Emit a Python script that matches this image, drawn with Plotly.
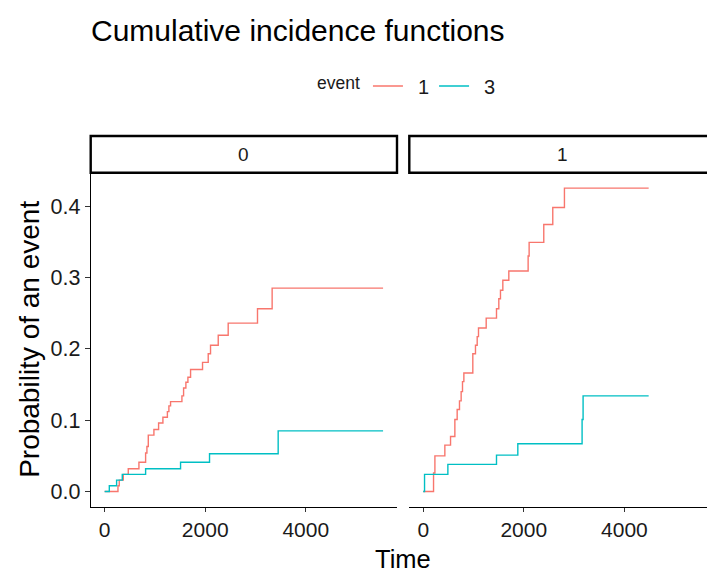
import plotly.graph_objects as go

# Cumulative incidence step estimates, one set per facet (group 0 / group 1)
# and per event type (1 / 3).
g0_e1_time = [0, 265, 291, 371, 470, 682, 815, 841, 868, 980, 1073, 1159, 1248, 1278,
              1311, 1537, 1570, 1616, 1656, 1709, 1947, 2060, 2106, 2259, 2457, 3040,
              3331, 5537]
g0_e1_cif = [0, 0.008, 0.016, 0.024, 0.032, 0.041, 0.054, 0.063, 0.079, 0.087, 0.096,
             0.104, 0.112, 0.120, 0.126, 0.134, 0.145, 0.153, 0.160, 0.171, 0.181,
             0.193, 0.205, 0.219, 0.236, 0.256, 0.285, 0.285]

g0_e3_time = [0, 93, 238, 351, 815, 1510, 2086, 3451, 5537]
g0_e3_cif = [0, 0.008, 0.016, 0.024, 0.032, 0.041, 0.053, 0.085, 0.085]

g1_e1_time = [0, 205, 232, 430, 543, 629, 675, 721, 754, 781, 808, 986, 1039, 1073,
              1099, 1252, 1457, 1503, 1536, 1583, 1702, 2086, 2106, 2397, 2576, 2808,
              4483]
g1_e1_cif = [0, 0.026, 0.050, 0.065, 0.077, 0.101, 0.115, 0.127, 0.140, 0.154, 0.166,
             0.193, 0.205, 0.217, 0.229, 0.243, 0.256, 0.270, 0.282, 0.296, 0.309,
             0.330, 0.349, 0.374, 0.398, 0.425, 0.425]

g1_e3_time = [0, 26, 490, 1457, 1881, 3159, 3179, 4483]
g1_e3_cif = [0, 0.024, 0.038, 0.051, 0.067, 0.101, 0.134, 0.134]

facet_labels = ["0", "1"]
event_labels = ["1", "3"]
x_ticks = [0, 2000, 4000]
y_ticks = [0, 0.1, 0.2, 0.3, 0.4]

W, H = 707, 572
RED, CYAN = "#F8766D", "#00BFC4"
FONT = "Liberation Sans, Arial, sans-serif"
TXT = "#1a1a1a"


def px_x(p):
    return p / W


def px_y(p):
    return 1 - p / H


# panel geometry (pixels)
P1_L, P1_R = 90.7, 397.0
P2_L = 409.3
P_TOP, P_BOT = 173.0, 506.7
STRIP_TOP, STRIP_BOT = 136.0, 172.7

x_lo, x_hi = -277.0, 5814.0
scale = (P1_R - P1_L) / (x_hi - x_lo)
x2_hi = x_lo + (W - P2_L) / scale

fig = go.Figure()

# legend entries get a small lead-in gap between key line and label
series = [
    (g0_e1_time, g0_e1_cif, RED, event_labels[0], "x", "y", True),
    (g0_e3_time, g0_e3_cif, CYAN, event_labels[1], "x", "y", True),
    (g1_e1_time, g1_e1_cif, RED, event_labels[0], "x2", "y2", False),
    (g1_e3_time, g1_e3_cif, CYAN, event_labels[1], "x2", "y2", False),
]
for t, p, col, name, xa, ya, leg in series:
    fig.add_trace(go.Scatter(
        x=t, y=p, mode="lines", name="\u2002" + name, legendgroup=name, showlegend=leg,
        line=dict(shape="hv", color=col, width=1.4),
        xaxis=xa, yaxis=ya, hoverinfo="skip",
    ))

axis_common = dict(
    showgrid=False, zeroline=False, showline=True, linecolor="black", linewidth=1.1,
    ticks="outside", ticklen=5, tickwidth=1.1, tickcolor="#333333",
    tickfont=dict(family=FONT, size=21.5, color=TXT),
)
x_axis_common = dict(axis_common, ticklen=4, tickfont=dict(family=FONT, size=21, color=TXT))

y_lo, y_hi = -0.02125, 0.44625

fig.update_layout(
    width=W, height=H,
    margin=dict(l=0, r=0, t=0, b=0),
    paper_bgcolor="white", plot_bgcolor="white",
    font=dict(family=FONT, color=TXT),
    xaxis=dict(domain=[px_x(P1_L), px_x(P1_R)], range=[x_lo, x_hi],
               tickvals=x_ticks, anchor="y", **x_axis_common),
    xaxis2=dict(domain=[px_x(P2_L), 1.0], range=[x_lo, x2_hi],
                tickvals=x_ticks, anchor="y2", **x_axis_common),
    yaxis=dict(domain=[px_y(P_BOT), px_y(P_TOP)], range=[y_lo, y_hi],
               tickvals=y_ticks, tickformat=".1f", anchor="x", **axis_common),
    yaxis2=dict(domain=[px_y(P_BOT), px_y(P_TOP)], range=[y_lo, y_hi],
                showline=False, showgrid=False, zeroline=False, ticks="",
                showticklabels=False, anchor="x2"),
    title=dict(text="Cumulative incidence functions", x=px_x(91), xanchor="left",
               xref="container", yref="container", y=px_y(30.5), yanchor="middle",
               font=dict(family=FONT, size=30, color="black")),
    legend=dict(orientation="h", x=px_x(315), xanchor="left", y=px_y(86),
                yanchor="middle", font=dict(family=FONT, size=20, color=TXT),
                title=dict(text="event", font=dict(family=FONT, size=17.5, color=TXT)),
                itemwidth=30, bgcolor="rgba(0,0,0,0)"),
    showlegend=True,
)

# facet strips
shapes = []
annotations = []
for lab, (l, r) in zip(facet_labels, [(P1_L, P1_R), (P2_L, P2_L + (P1_R - P1_L))]):
    shapes.append(dict(type="rect", xref="paper", yref="paper",
                       x0=px_x(l), x1=px_x(r), y0=px_y(STRIP_BOT), y1=px_y(STRIP_TOP),
                       line=dict(color="black", width=2.4), fillcolor="white",
                       layer="above"))
    annotations.append(dict(text=lab, xref="paper", yref="paper",
                            x=px_x((l + r) / 2), y=px_y((STRIP_TOP + STRIP_BOT) / 2),
                            xanchor="center", yanchor="middle", showarrow=False,
                            font=dict(family=FONT, size=19, color=TXT)))

# shared axis titles
annotations.append(dict(text="Time", xref="paper", yref="paper",
                        x=px_x((P1_L + P2_L + (P1_R - P1_L)) / 2), y=0.0,
                        xanchor="center", yanchor="bottom", showarrow=False,
                        borderpad=0, yshift=-1.5,
                        font=dict(family=FONT, size=25.5, color="black")))
annotations.append(dict(text="Probability of an event", xref="paper", yref="paper",
                        x=px_x(30), y=px_y((P_TOP + P_BOT) / 2), textangle=-90,
                        xanchor="center", yanchor="middle", showarrow=False,
                        font=dict(family=FONT, size=28, color="black")))

fig.update_layout(shapes=shapes, annotations=annotations)

fig.write_html("out.html")
